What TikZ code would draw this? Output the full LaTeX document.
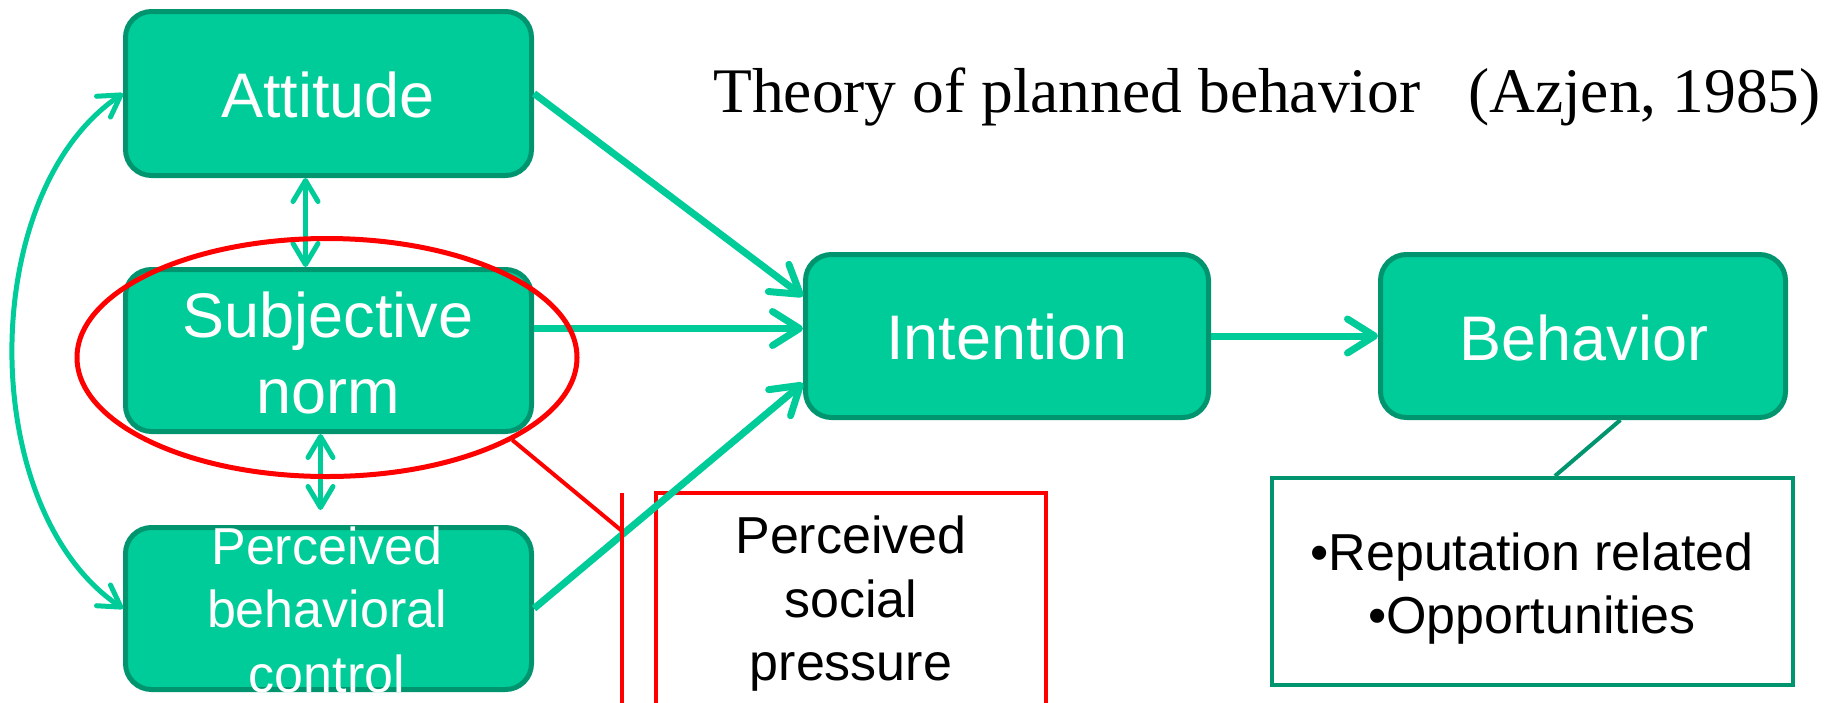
\documentclass[tikz,border=0pt]{standalone}
\usepackage{fontspec}
\setmainfont{Liberation Serif}
\newfontfamily\arialf{Liberation Sans}
\usetikzlibrary{arrows.meta,shapes.geometric,calc}
\definecolor{tpgreen}{HTML}{00CC99}
\definecolor{tpdark}{HTML}{00956E}
\definecolor{tpred}{HTML}{FF0000}
\begin{document}
\begin{tikzpicture}[x=1pt,y=-1pt,
  gbox/.style={draw=tpdark, line width=5pt, fill=tpgreen, rounded corners=26pt, inner sep=0pt},
  bigtext/.style={text=white, font=\arialf\fontsize{63}{76}\selectfont, anchor=base, inner sep=0pt},
  midtext/.style={text=white, font=\arialf\fontsize{52}{63}\selectfont, anchor=base, inner sep=0pt},
  blacktext/.style={text=black, font=\arialf\fontsize{52}{63}\selectfont, anchor=base, inner sep=0pt},
  conn/.style={draw=tpgreen, line width=7pt, -{Straight Barb[length=27pt,width=34pt,round]}},
  dconn/.style={draw=tpgreen, line width=5pt, {Straight Barb[length=21pt,width=25pt,round]}-{Straight Barb[length=21pt,width=25pt,round]}},
  redline/.style={draw=tpred, line width=4pt}
]
\useasboundingbox (0,0) rectangle (1839,702);
\clip (0,0) rectangle (1839,702);

% title
\node[font=\fontsize{63.5}{76}\selectfont, anchor=base, inner sep=0pt] (title) at (1267,112) {Theory of planned behavior\hspace{0.5em} (Azjen, 1985)};

% green boxes
\node[gbox, minimum width=406pt, minimum height=164pt] (att) at (328.5,93.5) {};
\node[gbox, minimum width=406pt, minimum height=162pt] (sub) at (328.5,350.5) {};
\node[gbox, minimum width=406pt, minimum height=162pt] (pbc) at (328.5,608.5) {};
\node[gbox, minimum width=403pt, minimum height=163pt] (int) at (1007,336) {};
\node[gbox, minimum width=405pt, minimum height=163pt] (beh) at (1583,336) {};

% texts in boxes
\node[bigtext] (attt) at (328,117) {Attitude};
\node[bigtext] (subt1) at (328,337) {Subjective};
\node[bigtext] (subt2) at (328,413) {norm};
\node[midtext] (pbct1) at (327,564) {Perceived};
\node[midtext] (pbct2) at (327,627) {behavioral};
\node[midtext] (pbct3) at (327,692) {control};
\node[bigtext] (intt) at (1007,359) {Intention};
\node[bigtext] (beht) at (1584,360) {Behavior};

% note box
\node[draw=tpdark, line width=4pt, minimum width=521pt, minimum height=207pt, inner sep=0pt] (note) at (1532.5,581.5) {};
\node[blacktext] (note1) at (1532,570) {•Reputation related};
\node[blacktext] (note2) at (1532,633) {•Opportunities};
\draw[tpdark, line width=4pt] (beh.-66) -- (note.78);

% red box
\draw[redline] (656,493) rectangle (1046,730);
\node[blacktext] (psp1) at (851,553) {Perceived};
\node[blacktext] (psp2) at (851,617) {social};
\node[blacktext] (psp3) at (851,680) {pressure};

% green connectors
\coordinate (s1) at ($(sub.east)+(0,-22)$);
\draw[conn] (att.east) -- (int.169);
\draw[conn] (s1) -- (s1 -| int.west);
\draw[conn] (pbc.east) -- (int.193);
\draw[conn] (int.east) -- (beh.west);
\draw[dconn] ($(att.south)+(-23,0)$) -- ($(sub.north)+(-23,0)$);
\draw[dconn] ($(sub.south)+(-8,0)$) -- ($(pbc.north)+(-8,-15)$);
\draw[dconn] (att.west) .. controls +(146:177) and +(214:177) .. (pbc.west);

% red ellipse and lines
\node[ellipse, draw=tpred, line width=5pt, minimum width=500pt, minimum height=238pt, inner sep=0pt] (circ) at (327,357.5) {};
\coordinate (vtop) at (622,493);
\coordinate (vbot) at (622,720);
\coordinate (vjoin) at (622,531);
\draw[redline] (vtop) -- (vbot);
\draw[redline] (circ.-24) -- (vjoin);
\end{tikzpicture}
\end{document}
